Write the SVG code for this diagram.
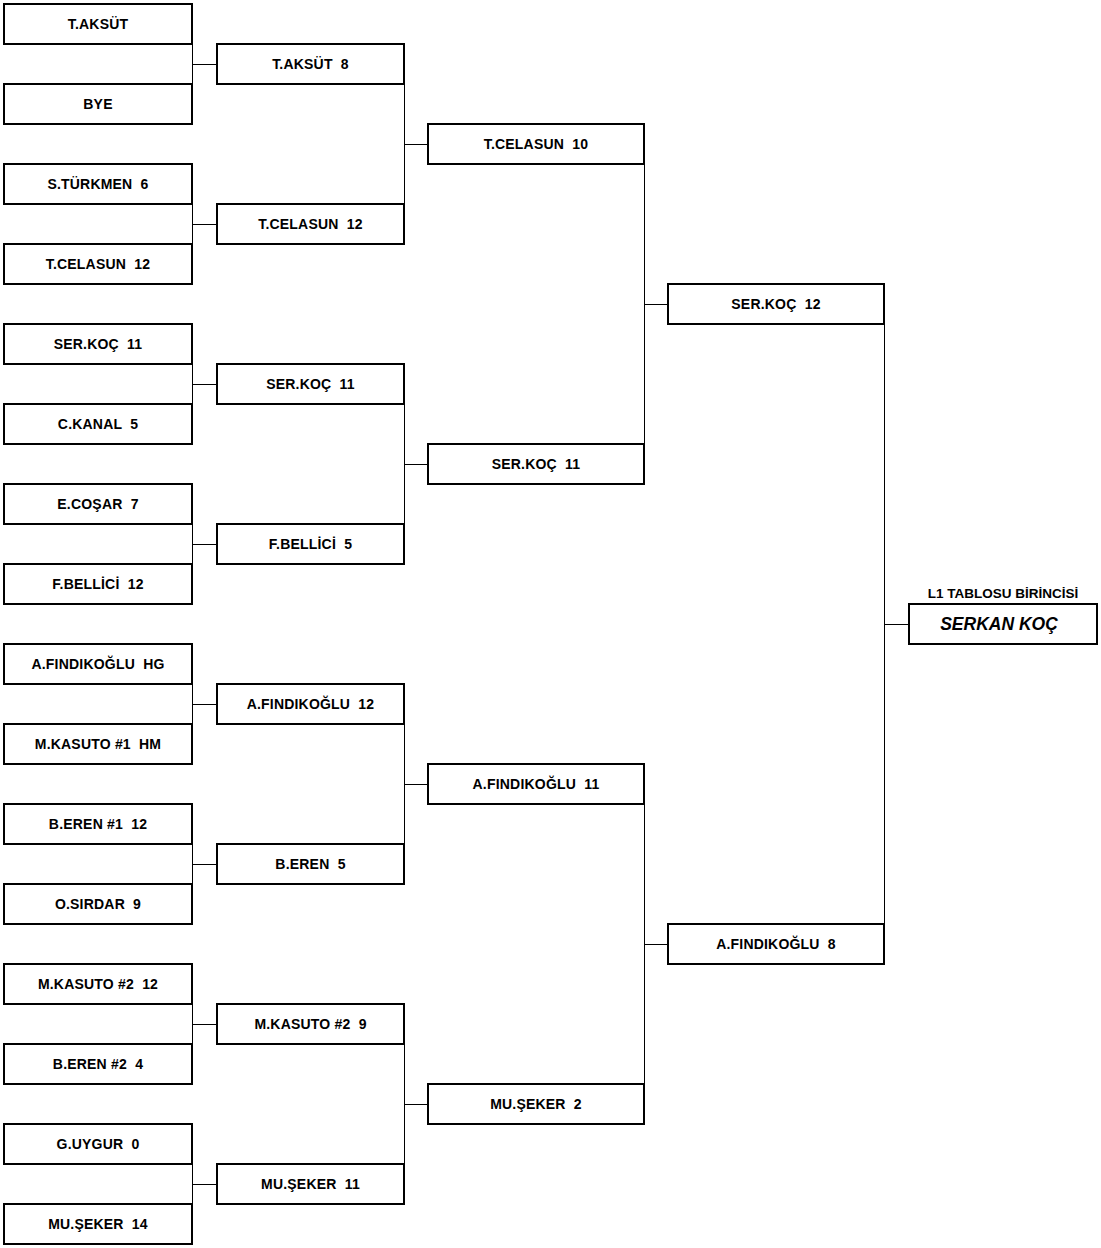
<svg xmlns="http://www.w3.org/2000/svg" width="1101" height="1248" viewBox="0 0 1101 1248">
<style>
.b{fill:#fff;stroke:#000;stroke-width:2}
.t{font-family:"Liberation Sans",Arial,sans-serif;font-weight:bold;font-size:14px;letter-spacing:0.2px;fill:#000;text-anchor:middle;white-space:pre}
.w{font-family:"Liberation Sans",Arial,sans-serif;font-weight:bold;font-style:italic;font-size:17.5px;fill:#000;text-anchor:middle}
.c{fill:none;stroke:#000;stroke-width:1}
</style>
<rect width="1101" height="1248" fill="#fff"/>
<g id="connectors" class="c">
<path d="M192.5 44V84M192 64.5H217"/>
<path d="M192.5 204V244M192 224.5H217"/>
<path d="M192.5 364V404M192 384.5H217"/>
<path d="M192.5 524V564M192 544.5H217"/>
<path d="M192.5 684V724M192 704.5H217"/>
<path d="M192.5 844V884M192 864.5H217"/>
<path d="M192.5 1004V1044M192 1024.5H217"/>
<path d="M192.5 1164V1204M192 1184.5H217"/>
<path d="M404.5 84V204M404 144.5H428"/>
<path d="M404.5 404V524M404 464.5H428"/>
<path d="M404.5 724V844M404 784.5H428"/>
<path d="M404.5 1044V1164M404 1104.5H428"/>
<path d="M644.5 164V444M644 304.5H668"/>
<path d="M644.5 804V1084M644 944.5H668"/>
<path d="M884.5 324V924M884 624.5H909"/>
</g>
<g id="r1-1"><rect class="b" x="4" y="4" width="188" height="40"/><text class="t" x="98" y="29">T.AKSÜT</text></g>
<g id="r1-2"><rect class="b" x="4" y="84" width="188" height="40"/><text class="t" x="98" y="109">BYE</text></g>
<g id="r1-3"><rect class="b" x="4" y="164" width="188" height="40"/><text class="t" x="98" y="189">S.TÜRKMEN  6</text></g>
<g id="r1-4"><rect class="b" x="4" y="244" width="188" height="40"/><text class="t" x="98" y="269">T.CELASUN  12</text></g>
<g id="r1-5"><rect class="b" x="4" y="324" width="188" height="40"/><text class="t" x="98" y="349">SER.KOÇ  11</text></g>
<g id="r1-6"><rect class="b" x="4" y="404" width="188" height="40"/><text class="t" x="98" y="429">C.KANAL  5</text></g>
<g id="r1-7"><rect class="b" x="4" y="484" width="188" height="40"/><text class="t" x="98" y="509">E.COŞAR  7</text></g>
<g id="r1-8"><rect class="b" x="4" y="564" width="188" height="40"/><text class="t" x="98" y="589">F.BELLİCİ  12</text></g>
<g id="r1-9"><rect class="b" x="4" y="644" width="188" height="40"/><text class="t" x="98" y="669">A.FINDIKOĞLU  HG</text></g>
<g id="r1-10"><rect class="b" x="4" y="724" width="188" height="40"/><text class="t" x="98" y="749">M.KASUTO #1  HM</text></g>
<g id="r1-11"><rect class="b" x="4" y="804" width="188" height="40"/><text class="t" x="98" y="829">B.EREN #1  12</text></g>
<g id="r1-12"><rect class="b" x="4" y="884" width="188" height="40"/><text class="t" x="98" y="909">O.SIRDAR  9</text></g>
<g id="r1-13"><rect class="b" x="4" y="964" width="188" height="40"/><text class="t" x="98" y="989">M.KASUTO #2  12</text></g>
<g id="r1-14"><rect class="b" x="4" y="1044" width="188" height="40"/><text class="t" x="98" y="1069">B.EREN #2  4</text></g>
<g id="r1-15"><rect class="b" x="4" y="1124" width="188" height="40"/><text class="t" x="98" y="1149">G.UYGUR  0</text></g>
<g id="r1-16"><rect class="b" x="4" y="1204" width="188" height="40"/><text class="t" x="98" y="1229">MU.ŞEKER  14</text></g>
<g id="r2-1"><rect class="b" x="217" y="44" width="187" height="40"/><text class="t" x="310.5" y="69">T.AKSÜT  8</text></g>
<g id="r2-2"><rect class="b" x="217" y="204" width="187" height="40"/><text class="t" x="310.5" y="229">T.CELASUN  12</text></g>
<g id="r2-3"><rect class="b" x="217" y="364" width="187" height="40"/><text class="t" x="310.5" y="389">SER.KOÇ  11</text></g>
<g id="r2-4"><rect class="b" x="217" y="524" width="187" height="40"/><text class="t" x="310.5" y="549">F.BELLİCİ  5</text></g>
<g id="r2-5"><rect class="b" x="217" y="684" width="187" height="40"/><text class="t" x="310.5" y="709">A.FINDIKOĞLU  12</text></g>
<g id="r2-6"><rect class="b" x="217" y="844" width="187" height="40"/><text class="t" x="310.5" y="869">B.EREN  5</text></g>
<g id="r2-7"><rect class="b" x="217" y="1004" width="187" height="40"/><text class="t" x="310.5" y="1029">M.KASUTO #2  9</text></g>
<g id="r2-8"><rect class="b" x="217" y="1164" width="187" height="40"/><text class="t" x="310.5" y="1189">MU.ŞEKER  11</text></g>
<g id="r3-1"><rect class="b" x="428" y="124" width="216" height="40"/><text class="t" x="536" y="149">T.CELASUN  10</text></g>
<g id="r3-2"><rect class="b" x="428" y="444" width="216" height="40"/><text class="t" x="536" y="469">SER.KOÇ  11</text></g>
<g id="r3-3"><rect class="b" x="428" y="764" width="216" height="40"/><text class="t" x="536" y="789">A.FINDIKOĞLU  11</text></g>
<g id="r3-4"><rect class="b" x="428" y="1084" width="216" height="40"/><text class="t" x="536" y="1109">MU.ŞEKER  2</text></g>
<g id="r4-1"><rect class="b" x="668" y="284" width="216" height="40"/><text class="t" x="776" y="309">SER.KOÇ  12</text></g>
<g id="r4-2"><rect class="b" x="668" y="924" width="216" height="40"/><text class="t" x="776" y="949">A.FINDIKOĞLU  8</text></g>
<g id="winner"><text class="t" x="1003" y="598" style="font-size:13.5px;letter-spacing:0">L1 TABLOSU BİRİNCİSİ</text><rect class="b" x="909" y="604" width="188" height="40"/><text class="w" x="999" y="630">SERKAN KOÇ</text></g>
</svg>
